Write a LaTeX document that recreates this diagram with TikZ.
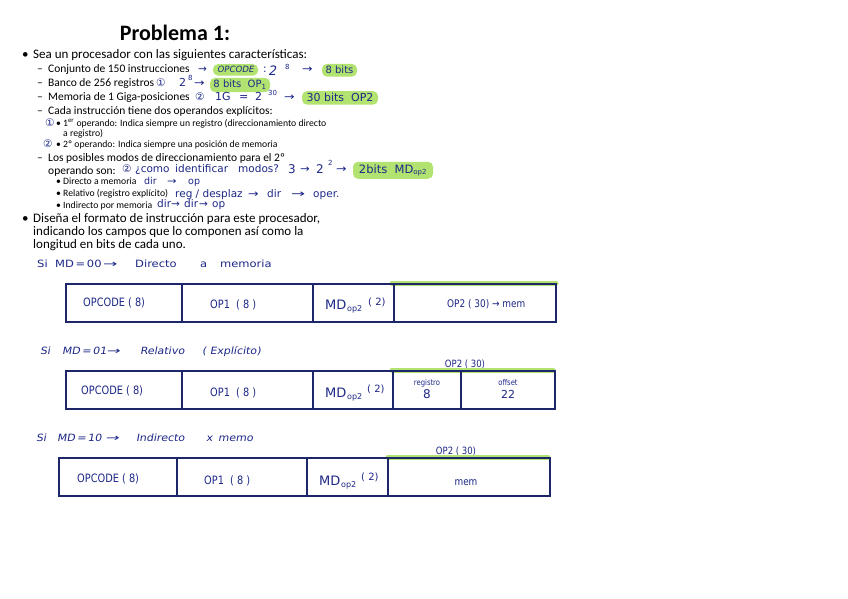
\documentclass[tikz,border=0pt]{standalone}
\usepackage{fontspec}
\setmainfont{Carlito}
\newfontfamily\hand{DejaVu Sans}
\newfontfamily\handn{DejaVu Sans}[FakeStretch=0.85]
\newfontfamily\handw{DejaVu Sans}[FakeStretch=1.15]
\newfontfamily\handwi{DejaVu Sans}[FakeStretch=1.1,FakeSlant=0.18]
\newfontfamily\handi{DejaVu Sans}[FakeSlant=0.18]
\definecolor{ink}{RGB}{30,40,135}
\definecolor{boxline}{RGB}{28,38,105}
\definecolor{hl}{RGB}{178,226,112}
\newcommand{\hsz}[1]{\fontsize{#1}{#1}\selectfont}
\newcommand{\longarr}{\scalebox{1.5}[1]{→}}
\tikzset{
  txt/.style={anchor=base west, inner sep=0pt},
  body/.style={txt, font=\fontsize{13}{15}\selectfont},
  sub/.style={txt, font=\fontsize{11.5}{14}\selectfont},
  subsub/.style={txt, font=\fontsize{9.7}{11}\selectfont},
  hw/.style={txt, text=ink, font=\hand\hsz{10.5}},
  hwd/.style={txt, text=ink, font=\hand\hsz{9.5}},
  hwb/.style={txt, text=ink, font=\handn\hsz{11.5}},
  hwh/.style={txt, text=ink, font=\handw\hsz{10}},
  hwi/.style={txt, text=ink, font=\handwi\hsz{10}},
  hws/.style={txt, text=ink, font=\hand\hsz{7}},
  hwc/.style={anchor=base, inner sep=0pt, text=ink, font=\handn\hsz{10}},
  hlbox/.style={fill=hl, rounded corners=5pt, inner xsep=3pt, inner ysep=2.5pt, anchor=base, text=ink, font=\hand\hsz{10}},
  frame/.style={draw=boxline, line width=1.4pt},
  divider/.style={draw=boxline, line width=1.1pt},
  glow/.style={draw=hl, line width=5pt, line cap=round}
}
\begin{document}
\begin{tikzpicture}[x=1pt,y=-1pt]
\useasboundingbox[fill=white] (0,0) rectangle (848,599);

% Title
\node[anchor=base, inner sep=0pt, font=\fontsize{22}{26}\bfseries] (title) at (175,41) {Problema 1:};

% Statement
\node[body] (b1) at (22,59) {•};
\node[body] (t1) at (33,59) {Sea un procesador con las siguientes características:};

\node[sub] (d1) at (37,73) {–};
\node[sub] (l1) at (48,73) {Conjunto de 150 instrucciones};
\node[hw] (l1a) at (198,73) {→};
\node[hlbox, font=\handi\hsz{8.6}, minimum width=45pt] (l1b) at (235.5,73) {OPCODE};
\node[hw] (l1c) at (263,73) {:};
\node[hw, font=\handi\hsz{13}] (l1c2) at (268,76) {2};
\node[hws] (l1d) at (285,70) {8};
\node[hw] (l1e) at (302,73) {\scalebox{1.2}[1]{→}};
\node[hlbox, minimum width=35pt] (l1f) at (339.5,74) {8 bits};

\node[sub] (d2) at (37,87) {–};
\node[sub] (l2) at (48,87) {Banco de 256 registros};
\node[hw] (l2a) at (156,87) {①};
\node[hw, font=\hand\hsz{11}] (l2a2) at (179,87) {2};
\node[hws] (l2b) at (188,81) {8};
\node[hw] (l2c) at (194,87) {\scalebox{1.2}[1]{→}};
\node[hlbox, minimum width=60pt] (l2d) at (240,88) {8 bits\ \ OP\textsubscript{\hsz{7}1}};

\node[sub] (d3) at (37,101) {–};
\node[sub] (l3) at (48,101) {Memoria de 1 Giga-posiciones};
\node[hw] (l3a) at (195,101) {②};
\node[hw, font=\hand\hsz{11}] (l3a2) at (215,101) {1G};
\node[hw, font=\hand\hsz{11}] (l3a3) at (239,101) {=};
\node[hw, font=\hand\hsz{11}] (l3a4) at (255,101) {2};
\node[hws] (l3b) at (268,96) {30};
\node[hw] (l3c) at (284,101) {\scalebox{1.2}[1]{→}};
\node[hlbox, font=\hand\hsz{11}, minimum width=76pt] (l3d) at (340,102) {30 bits\ \ OP2};

\node[sub] (d4) at (37,114) {–};
\node[sub] (l4) at (48,114) {Cada instrucción tiene dos operandos explícitos:};

\node[hw] (c1) at (45,126) {①};
\node[subsub] (s1d) at (56,126) {•};
\node[subsub] (s1) at (63,126) {1\textsuperscript{er} operando: Indica siempre un registro (direccionamiento directo};
\node[subsub] (s1b) at (63,136) {a registro)};
\node[hw] (c2) at (43,147) {②};
\node[subsub] (s2d) at (56,147) {•};
\node[subsub] (s2) at (63,147) {2º operando: Indica siempre una posición de memoria};

\node[sub] (d5) at (37,161) {–};
\node[sub] (l5) at (48,161) {Los posibles modos de direccionamiento para el 2º};
\node[sub] (l5b) at (48,174) {operando son:};
\node[hw] (l5c) at (122,172) {②};
\node[hw] (l5c1) at (135,172) {¿como};
\node[hw] (l5c2) at (175,172) {identificar};
\node[hw] (l5c3) at (238,172) {modos?};
\node[hw, font=\hand\hsz{12}] (l5c4) at (288,173) {3};
\node[hw] (l5c5) at (300,172) {\scalebox{1.1}[1]{→}};
\node[hw, font=\hand\hsz{12}] (l5c6) at (316,173) {2};
\node[hws] (l5d) at (328,165) {2};
\node[hw] (l5e) at (336,172) {\scalebox{1.2}[1]{→}};
\node[hlbox, font=\hand\hsz{11.5}, minimum width=80pt] (l5f) at (393,173) {2bits\ \ MD\textsubscript{\hsz{7}op2}};

\node[subsub] (m1d) at (56,184) {•};
\node[subsub] (m1) at (63,184) {Directo a memoria};
\node[hwd] (m1a) at (144,184) {dir};
\node[hwd] (m1b) at (167,184) {\scalebox{1.2}[1]{→}};
\node[hwd] (m1c) at (188,184) {op};
\node[subsub] (m2d) at (56,196) {•};
\node[subsub] (m2) at (63,196) {Relativo (registro explícito)};
\node[hw] (m2a) at (175,197) {reg / desplaz};
\node[hw] (m2b) at (248,197) {\scalebox{1.2}[1]{→}};
\node[hw] (m2c) at (267,197) {dir};
\node[hw] (m2d2) at (291,197) {\scalebox{1.6}[1]{→}};
\node[hw] (m2e) at (313,197) {oper.};
\node[subsub] (m3d) at (56,208) {•};
\node[subsub] (m3) at (63,208) {Indirecto por memoria};
\node[hw] (m3a) at (157,207) {dir};
\node[hw] (m3b) at (171,207) {→};
\node[hw] (m3c) at (184,207) {dir};
\node[hw] (m3d2) at (199,207) {→};
\node[hw] (m3e) at (212,207) {op};

\node[body] (b2) at (22,222) {•};
\node[body] (t2) at (33,222) {Diseña el formato de instrucción para este procesador,};
\node[body] (t3) at (33,235) {indicando los campos que lo componen así como la};
\node[body] (t4) at (33,248) {longitud en bits de cada uno.};

% Case 1
\node[hwh] (h1a) at (37,267) {Si};
\node[hwh] (h1b) at (55,267) {MD\,=\,00};
\node[hwh] (h1c) at (103,267) {\longarr};
\node[hwh] (h1d) at (135,267) {Directo};
\node[hwh] (h1e) at (200,267) {a};
\node[hwh] (h1f) at (220,267) {memoria};
\draw[glow] (392,283) -- (556,283);
\draw[frame] (66,284) rectangle (556,322);
\draw[divider] (182,284) -- (182,322);
\draw[divider] (313,284) -- (313,322);
\draw[divider] (394,284) -- (394,322);
\node[hwb] (f11) at (83,306) {OPCODE ( 8)};
\node[hwb] (f12) at (210,308) {OP1\ \ ( 8 )};
\node[hwb, font=\hand\hsz{13}] (f13) at (325,309) {MD};
\node[hws, font=\hand\hsz{8}] (f13b) at (347,311) {op2};
\node[hwb, font=\hand\hsz{10}] (f13c) at (368,305) {( 2)};
\node[hwb, font=\handn\hsz{10.5}] (f14) at (447,307) {OP2 ( 30) → mem};

% Case 2
\node[hwi] (h2a) at (40,354) {Si};
\node[hwi] (h2b) at (62,354) {MD\,=\,01};
\node[hwi] (h2c) at (106,354) {\longarr};
\node[hwi] (h2d) at (140,354) {Relativo};
\node[hwi] (h2e) at (202,354) {( Explícito)};
\node[hwc] (o2) at (465,367) {OP2 ( 30)};
\draw[glow] (392,370) -- (553,370);
\draw[frame] (66,371) rectangle (555,409);
\draw[divider] (182,371) -- (182,409);
\draw[divider] (313,371) -- (313,409);
\draw[divider] (393,371) -- (393,409);
\draw[divider] (461,371) -- (461,409);
\node[hwb] (f21) at (81,394) {OPCODE ( 8)};
\node[hwb] (f22) at (210,396) {OP1\ \ ( 8 )};
\node[hwb, font=\hand\hsz{13}] (f23) at (325,397) {MD};
\node[hws, font=\hand\hsz{8}] (f23b) at (347,399) {op2};
\node[hwb, font=\hand\hsz{10}] (f23c) at (367,392) {( 2)};
\node[hwc, font=\handn\hsz{8}] (f24) at (427,385) {registro};
\node[hwc, font=\hand\hsz{12}] (f25) at (427,398) {8};
\node[hwc, font=\handn\hsz{8}] (f26) at (508,385) {offset};
\node[hwc, font=\hand\hsz{11}] (f27) at (508,398) {22};

% Case 3
\node[hwi] (h3a) at (36,441) {Si};
\node[hwi] (h3b) at (57,441) {MD\,=\,10};
\node[hwi] (h3c) at (105,441) {\longarr};
\node[hwi] (h3d) at (136,441) {Indirecto};
\node[hwi] (h3e) at (206,441) {x};
\node[hwi] (h3f) at (218,441) {memo};
\node[hwc] (o3) at (456,454) {OP2 ( 30)};
\draw[glow] (388,457) -- (548,457);
\draw[frame] (59,458) rectangle (550,496);
\draw[divider] (177,458) -- (177,496);
\draw[divider] (307,458) -- (307,496);
\draw[divider] (388,458) -- (388,496);
\node[hwb] (f31) at (77,482) {OPCODE ( 8)};
\node[hwb] (f32) at (204,484) {OP1\ \ ( 8 )};
\node[hwb, font=\hand\hsz{13}] (f33) at (319,485) {MD};
\node[hws, font=\hand\hsz{8}] (f33b) at (341,487) {op2};
\node[hwb, font=\hand\hsz{10}] (f33c) at (361,480) {( 2)};
\node[hwc, font=\handn\hsz{10.5}] (f34) at (466,485) {mem};
\end{tikzpicture}
\end{document}
